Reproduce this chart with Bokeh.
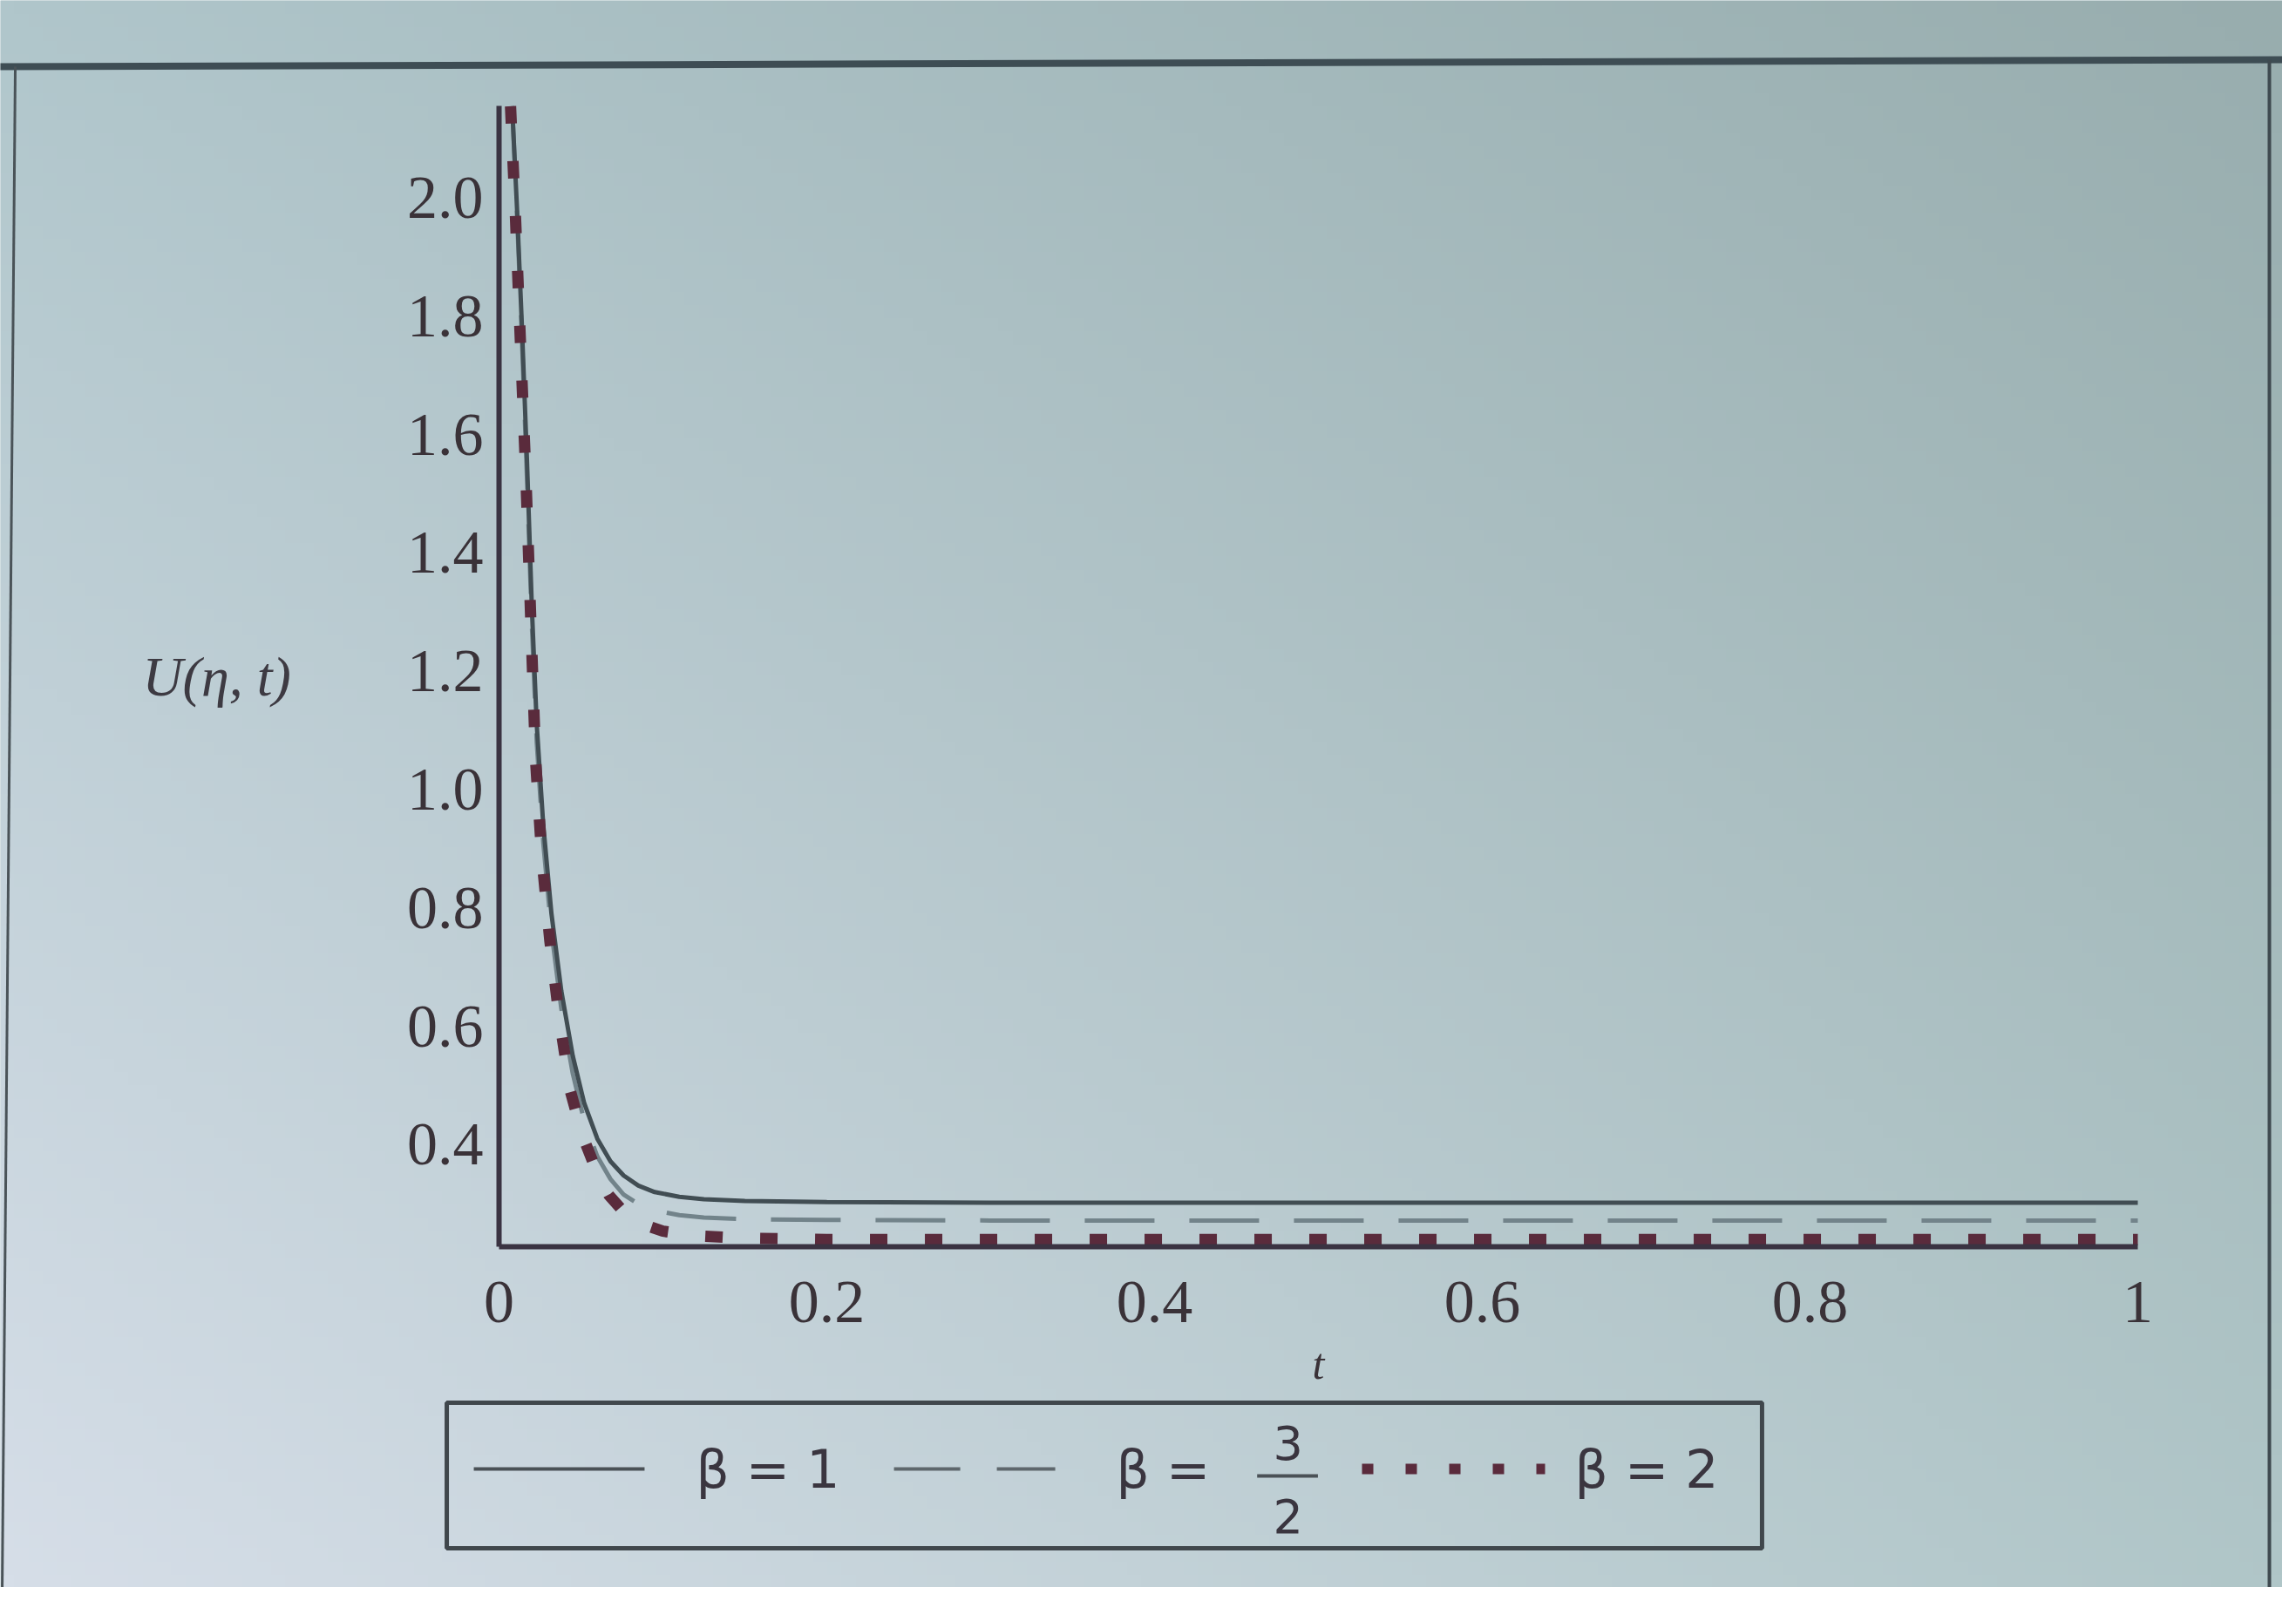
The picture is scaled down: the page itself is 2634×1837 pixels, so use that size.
import numpy as np
from bokeh.plotting import figure
from bokeh.models import LinearAxis, FixedTicker, Range1d
from bokeh.core.properties import value
from bokeh.embed import file_html
from bokeh.resources import INLINE

# ---------------- data ----------------
t_b1 = [0.008, 0.011, 0.014, 0.017, 0.020, 0.023, 0.027, 0.032, 0.038, 0.045, 0.052, 0.060,
        0.068, 0.076, 0.085, 0.095, 0.110, 0.125, 0.150, 0.200, 0.300, 0.500, 0.700, 1.000]
u_b1 = [2.155, 1.98, 1.78, 1.56, 1.31, 1.11, 0.94, 0.79, 0.66, 0.55, 0.47, 0.41,
        0.372, 0.348, 0.331, 0.320, 0.312, 0.308, 0.305, 0.303, 0.302, 0.302, 0.302, 0.302]

t_b15 = [0.008, 0.011, 0.014, 0.017, 0.020, 0.023, 0.027, 0.032, 0.038, 0.045, 0.052, 0.060,
         0.068, 0.076, 0.085, 0.095, 0.110, 0.125, 0.150, 0.200, 0.300, 0.500, 0.700, 1.000]
u_b15 = [2.155, 1.97, 1.76, 1.53, 1.28, 1.08, 0.91, 0.76, 0.63, 0.52, 0.44, 0.38,
         0.342, 0.316, 0.300, 0.289, 0.281, 0.277, 0.274, 0.273, 0.272, 0.272, 0.272, 0.272]

t_b2 = [0.007, 0.010, 0.013, 0.0165, 0.0197, 0.0223, 0.026, 0.031, 0.0367, 0.0436, 0.051,
        0.0595, 0.067, 0.075, 0.085, 0.100, 0.120, 0.150, 0.200, 0.300, 0.500, 0.700, 1.000]
u_b2 = [2.155, 1.97, 1.76, 1.52, 1.26, 1.05, 0.89, 0.745, 0.615, 0.49, 0.415,
        0.355, 0.315, 0.290, 0.268, 0.254, 0.246, 0.242, 0.240, 0.240, 0.240, 0.240, 0.240]

x_ticks = [0, 0.2, 0.4, 0.6, 0.8, 1]
x_tick_labels = ["0", "0.2", "0.4", "0.6", "0.8", "1"]
y_ticks = [0.4, 0.6, 0.8, 1.0, 1.2, 1.4, 1.6, 1.8, 2.0]
y_tick_labels = ["0.4", "0.6", "0.8", "1.0", "1.2", "1.4", "1.6", "1.8", "2.0"]

legend_labels = ["β = 1", "β =", "3", "2", "β = 2"]
x_label = "t"
y_label = "U(η, t)"

# ---------------- figure ----------------
W, H = 2618, 1821
X0, X1 = -0.30426, 1.08829
Y0, Y1 = -0.34816, 2.33372

p = figure(width=W, height=H, output_backend="svg", toolbar_location=None,
           x_range=Range1d(X0, X1), y_range=Range1d(Y0, Y1),
           x_axis_location=None, y_axis_location=None, min_border=0)
p.outline_line_color = None
p.background_fill_color = "#b8ccd0"
p.border_fill_color = "#b8ccd0"

# soft photographic background shading
ny, nx = 120, 160
c_tl = np.array([176, 198, 203.0]); c_tr = np.array([152, 173, 174.0])
c_bl = np.array([214, 222, 232.0]); c_br = np.array([176, 198, 200.0])
fy = np.linspace(0, 1, ny)[:, None, None]   # 0 bottom -> 1 top
fx = np.linspace(0, 1, nx)[None, :, None]
top = c_tl * (1 - fx) + c_tr * fx
bot = c_bl * (1 - fx) + c_br * fx
rgb = bot * (1 - fy) + top * fy
img = np.empty((ny, nx), dtype=np.uint32)
view = img.view(dtype=np.uint8).reshape((ny, nx, 4))
view[:, :, :3] = rgb.astype(np.uint8)
view[:, :, 3] = 255
p.image_rgba(image=[img], x=X0, y=Y0, dw=X1 - X0, dh=Y1 - Y0)

# page frame lines of the photographed page
frame_col = "#3e4d54"
p.line([X0 - 0.01, X1 + 0.01], [2.2218, 2.2336], line_color=frame_col, line_width=8)
p.line([-0.2952, -0.3032], [2.222, Y0 - 0.01], line_color="#4a5358", line_width=3)
p.line([1.0803, 1.0803], [2.234, Y0 - 0.01], line_color="#3f4a50", line_width=4)

# ---------------- axes ----------------
tick_font = "Liberation Serif"
xaxis = LinearAxis(fixed_location=0.228, bounds=(0, 1),
                   ticker=FixedTicker(ticks=x_ticks),
                   major_label_overrides=dict(zip(x_ticks, x_tick_labels)),
                   axis_label=x_label)
yaxis = LinearAxis(fixed_location=0, bounds=(0.228, 2.155),
                   ticker=FixedTicker(ticks=y_ticks),
                   major_label_overrides=dict(zip(y_ticks, y_tick_labels)))
for ax in (xaxis, yaxis):
    ax.axis_line_color = "#3a3342"
    ax.axis_line_width = 6
    ax.major_tick_line_color = None
    ax.minor_tick_line_color = None
    ax.major_tick_out = 0
    ax.major_tick_in = 0
    ax.major_label_text_font = tick_font
    ax.major_label_text_font_size = "70px"
    ax.major_label_text_color = "#3a3238"
xaxis.major_label_standoff = 41
yaxis.major_label_standoff = 18
xaxis.axis_label_text_font = tick_font
xaxis.axis_label_text_font_style = "italic"
xaxis.axis_label_text_font_size = "50px"
xaxis.axis_label_text_color = "#3a3238"
xaxis.axis_label_standoff = 16
p.add_layout(xaxis, "below")
p.add_layout(yaxis, "left")

p.text(x=[-0.1723], y=[1.1909], text=[y_label], text_font=value(tick_font),
       text_font_style="italic", text_font_size=value("64px"), text_color="#3d3a42",
       text_align="center", text_baseline="middle")

# ---------------- curves ----------------
p.line(t_b15, u_b15, line_color="#72838a", line_width=5, line_dash="80 40")
p.line(t_b1, u_b1, line_color="#414d53", line_width=5)
p.line(t_b2, u_b2, line_color="#5a2b3c", line_width=13, line_dash="20 43", line_cap="butt")

# ---------------- legend (Maple style box below the plot) ----------------
p.quad(left=[-0.0319], right=[0.7707], top=[-0.0359], bottom=[-0.2819],
       fill_color=None, line_color="#40474c", line_width=5)
ly = -0.1479
p.line([-0.0154, 0.0888], [ly, ly], line_color="#4a5156", line_width=4)
p.line([0.241, 0.3394], [ly, ly], line_color="#5e676c", line_width=4, line_dash="76 42")
p.line([0.5266, 0.6383], [ly, ly], line_color="#5a2b3c", line_width=12,
       line_dash="13 37", line_cap="butt")
leg_font = "DejaVu Sans"
p.text(x=[0.1202, 0.3766, 0.6564], y=[ly, ly, ly],
       text=[legend_labels[0], legend_labels[1], legend_labels[4]],
       text_font=value(leg_font), text_font_size=value("60px"), text_color="#3a353f",
       text_align="left", text_baseline="middle")
p.text(x=[0.4815, 0.4815], y=[-0.1037, -0.2274], text=[legend_labels[2], legend_labels[3]],
       text_font=value(leg_font), text_font_size=value("54px"), text_color="#3a353f",
       text_align="center", text_baseline="middle")
p.line([0.4626, 0.4997], [-0.1596, -0.1596], line_color="#4a5156", line_width=4)

open("out.html", "w").write(file_html(p, INLINE))
